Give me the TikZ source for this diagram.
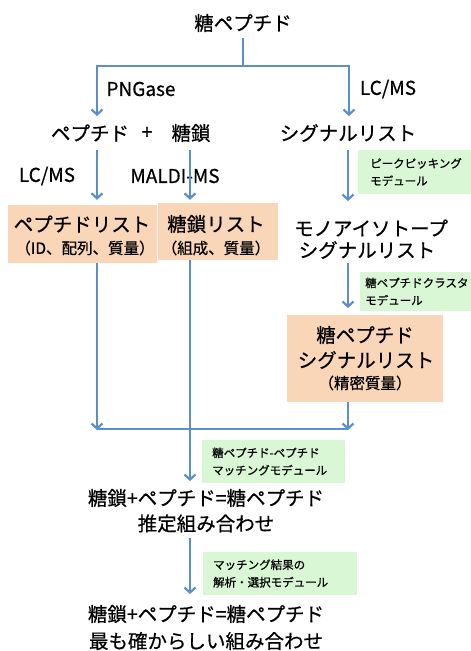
\documentclass[tikz,border=0pt]{standalone}
\usepackage{fontspec}
\setmainfont{Noto Sans CJK JP}[FakeBold=0.6]
\usetikzlibrary{arrows.meta}
\definecolor{arrowblue}{HTML}{5B8FC9}
\definecolor{orangebox}{HTML}{FAD6B8}
\definecolor{greenbox}{HTML}{D9F6D5}
\begin{document}
\begin{tikzpicture}[x=1pt,y=-1pt,
  arr/.style={draw=arrowblue,line width=2.2pt,-{Straight Barb[length=5pt,width=11pt]}},
  ln/.style={draw=arrowblue,line width=2.2pt},
  big/.style={font=\fontsize{19.5}{22}\selectfont, inner sep=0pt},
  sub/.style={font=\fontsize{15.5}{18}\selectfont, inner sep=0pt},
  lab/.style={font=\fontsize{19}{22}\selectfont, inner sep=0pt},
  obox/.style={fill=orangebox, draw=none, inner sep=0pt},
  gbox/.style={fill=greenbox, draw=none, anchor=west, inner ysep=0pt,
    font=\fontsize{11.5}{17.5}\selectfont, align=left}
]
\clip (0,0) rectangle (471,651);
% boxes
\node[obox, minimum width=149pt, minimum height=58pt] (plbox) at (82.5,234) {};
\node[obox, minimum width=120pt, minimum height=57pt] (glbox) at (218,231.5) {};
\node[obox, minimum width=156pt, minimum height=87pt] (gsbox) at (365,358.5) {};
\node[gbox, inner xsep=12pt, text width=120pt, minimum height=44pt] (g1) at (358,172) {ピークピッキング\\モデュール};
\node[gbox, inner xsep=5pt, text width=130pt, minimum height=39pt] (g2) at (360,291.5) {糖ペプチドクラスタ\\モデュール};
\node[gbox, inner xsep=10pt, text width=123pt, minimum height=43pt] (g3) at (202,461.5) {糖ペプチド-ペプチド\\マッチングモデュール};
\node[gbox, inner xsep=10pt, text width=134pt, minimum height=43pt] (g4) at (203,573.5) {マッチング結果の\\解析・選択モデュール};
% texts
\node[big] (title) at (243,23) {糖ペプチド};
\node[lab] (png) at (141,89) {PNGase};
\node[lab] (lcr) at (388,89) {LC/MS};
\node[big] (pep) at (90,133) {ペプチド};
\node[big] (plus) at (147,133) {+};
\node[big] (tou) at (191,133) {糖鎖};
\node[big] (sig) at (348,133) {シグナルリスト};
\node[lab] (lcl) at (47,176) {LC/MS};
\node[lab] (maldi) at (175,176) {MALDI-MS};
\node[big] (pl1) at (82,224) {ペプチドリスト};
\node[sub] (pl2) at (85,248) {（ID、配列、質量）};
\node[big] (gl1) at (216,224) {糖鎖リスト};
\node[sub] (gl2) at (216,248) {（組成、質量）};
\node[big] (mono1) at (371,228) {モノアイソトープ};
\node[big] (mono2) at (367,250) {シグナルリスト};
\node[big] (gs1) at (365,335) {糖ペプチド};
\node[big] (gs2) at (366,360) {シグナルリスト};
\node[sub] (gs3) at (365,383) {（精密質量）};
\node[big] (res1) at (206,498) {糖鎖+ペプチド=糖ペプチド};
\node[big] (res2) at (206,523.5) {推定組み合わせ};
\node[big] (fin1) at (206,614) {糖鎖+ペプチド=糖ペプチド};
\node[big] (fin2) at (206,641) {最も確からしい組み合わせ};
% connector coordinates
\coordinate (t0) at (243,38);
\coordinate (j0) at (243,66);
\coordinate (a1) at (97,116);
\coordinate (a2) at (349,116);
\coordinate (b1) at (97,150);
\coordinate (b2) at (190,150);
\coordinate (b3) at (348,150);
\coordinate (b3e) at (348,201);
\coordinate (c3) at (348,263);
\coordinate (c3e) at (348,308);
\coordinate (h1) at (97,430);
\coordinate (h2) at (348,430);
\coordinate (m1) at (190,481);
\coordinate (d1) at (190,538);
\coordinate (d2) at (190,594);
% connectors
\draw[ln] (t0) -- (j0);
\draw[arr] (j0) -| (a1);
\draw[arr] (j0) -| (a2);
\draw[arr, shorten >=5pt] (b1) -- (b1 |- plbox.north);
\draw[arr, shorten >=3pt] (b2) -- (b2 |- glbox.north);
\draw[arr] (b3) -- (b3e);
\draw[arr] (b1 |- plbox.south) -- (h1);
\draw[arr] (b2 |- glbox.south) -- (m1);
\draw[arr] (c3) -- (c3e);
\draw[arr] (b3 |- gsbox.south) -- (h2);
\draw[ln, line cap=butt] ([yshift=1pt]h1) -- ([yshift=1pt]h2);
\draw[arr] (d1) -- (d2);
\end{tikzpicture}
\end{document}
